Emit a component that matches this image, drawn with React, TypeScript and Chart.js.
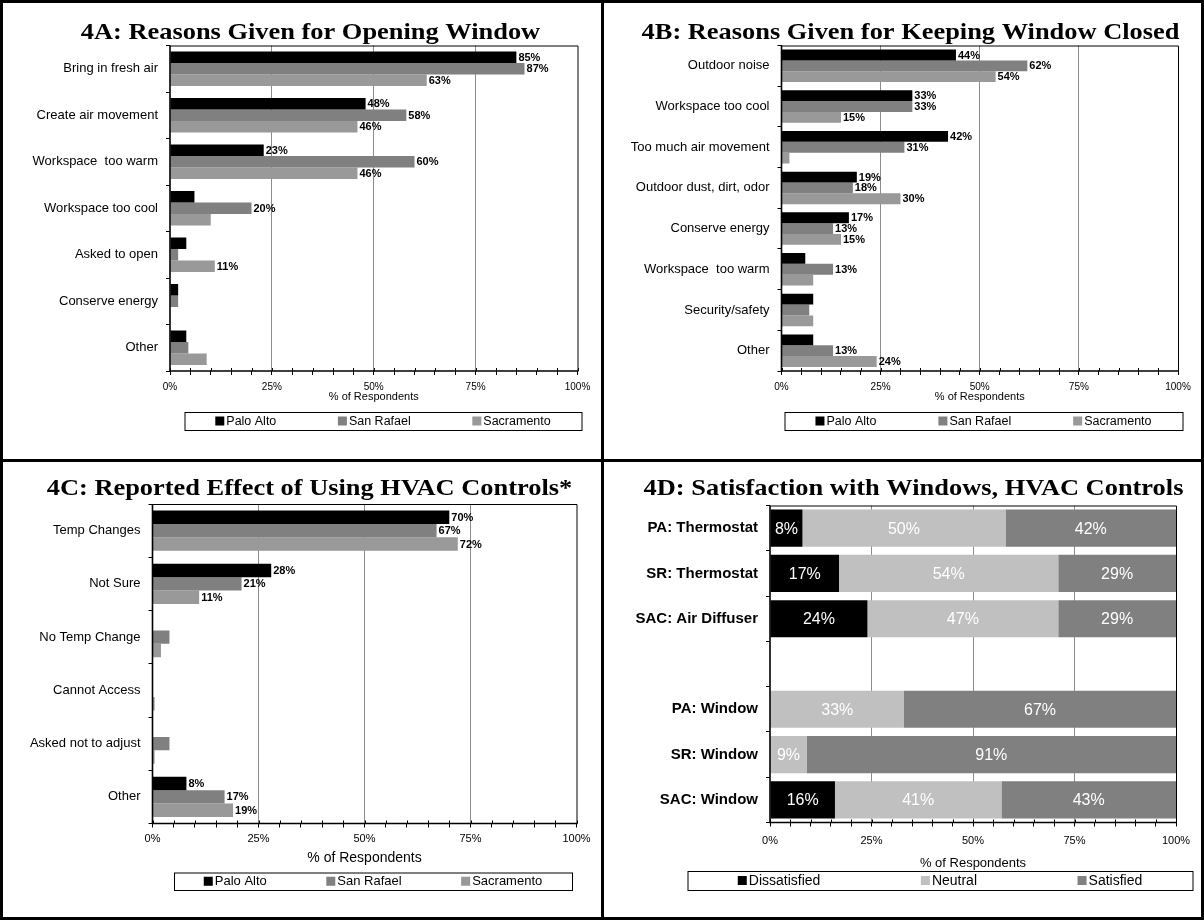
import { useEffect, useRef } from "react";
import { Chart, registerables } from "chart.js";

Chart.register(...registerables);

// ---- 4A: reasons for opening the window (% of respondents) ----
const openReasons = ["Bring in fresh air", "Create air movement", "Workspace  too warm", "Workspace too cool", "Asked to open", "Conserve energy", "Other"];
const openPaloAlto = [85, 48, 23, 6, 4, 2, 4];
const openSanRafael = [87, 58, 60, 20, 2, 2, 4.5];
const openSacramento = [63, 46, 46, 10, 11, 0, 9];

// ---- 4B: reasons for keeping the window closed ----
const closedReasons = ["Outdoor noise", "Workspace too cool", "Too much air movement", "Outdoor dust, dirt, odor", "Conserve energy", "Workspace  too warm", "Security/safety", "Other"];
const closedPaloAlto = [44, 33, 42, 19, 17, 6, 8, 8];
const closedSanRafael = [62, 33, 31, 18, 13, 13, 7, 13];
const closedSacramento = [54, 15, 2, 30, 15, 8, 8, 24];

// ---- 4C: reported effect of using HVAC controls ----
const hvacEffects = ["Temp Changes", "Not Sure", "No Temp Change", "Cannot Access", "Asked not to adjust", "Other"];
const hvacPaloAlto = [70, 28, 0, 0, 0, 8];
const hvacSanRafael = [67, 21, 4, 0, 4, 17];
const hvacSacramento = [72, 11, 2, 0.5, 0.5, 19];

// ---- 4D: satisfaction with windows and HVAC controls (stacked to 100%) ----
const satisfactionItems = ["PA: Thermostat", "SR: Thermostat", "SAC: Air Diffuser", "", "PA: Window", "SR: Window", "SAC: Window"];
const dissatisfied = [8, 17, 24, null, 0, 0, 16];
const neutral = [50, 54, 47, null, 33, 9, 41];
const satisfied = [42, 29, 29, null, 67, 91, 43];

const siteNames = ["Palo Alto", "San Rafael", "Sacramento"];
const ratingNames = ["Dissatisfied", "Neutral", "Satisfied"];
const percentTicks = [0, 25, 50, 75, 100];
const gridTicks = [25, 50, 75];

const SITE_COLORS = ["#000000", "#808080", "#999999"];
const RATING_COLORS = ["#000000", "#c0c0c0", "#808080"];
const SANS = '"Liberation Sans", Arial, sans-serif';
const SERIF = '"Liberation Serif", "Times New Roman", serif';
const TICK_LEN = 4;

type Box = { x: number; y: number; w: number; h: number };
type Frame = {
  box: Box; // canvas, page coordinates
  area: { l: number; t: number; r: number; b: number }; // plot area, page coordinates
  title: string;
  titleX: number;
  titleY: number;
  catFont: { size: number; weight?: string };
  tickFont: number;
  tickCenter: number;
  axisTitleFont: number;
  axisTitleCenter: number;
  legend: Box & { font: number; names: string[]; colors: string[] };
};

const frameA: Frame = {
  box: { x: 0, y: 0, w: 602, h: 460 },
  area: { l: 170, t: 45.5, r: 577.5, b: 371 },
  title: "4A: Reasons Given for Opening Window",
  titleX: 310.5, titleY: 38.5,
  catFont: { size: 13 },
  tickFont: 10, tickCenter: 16,
  axisTitleFont: 11, axisTitleCenter: 26,
  legend: { x: 184.5, y: 412, w: 397, h: 18, font: 12.5, names: siteNames, colors: SITE_COLORS },
};
const frameB: Frame = {
  box: { x: 602, y: 0, w: 602, h: 460 },
  area: { l: 781.5, t: 45.5, r: 1178, b: 371 },
  title: "4B: Reasons Given for Keeping Window Closed",
  titleX: 910.5, titleY: 38.5,
  catFont: { size: 13 },
  tickFont: 10, tickCenter: 16,
  axisTitleFont: 11, axisTitleCenter: 26,
  legend: { x: 784.5, y: 412, w: 398, h: 18, font: 12.5, names: siteNames, colors: SITE_COLORS },
};
const frameC: Frame = {
  box: { x: 0, y: 460, w: 602, h: 460 },
  area: { l: 152.5, t: 504, r: 576.5, b: 823.5 },
  title: "4C: Reported Effect of Using HVAC Controls*",
  titleX: 309.5, titleY: 495,
  catFont: { size: 13 },
  tickFont: 11, tickCenter: 15.5,
  axisTitleFont: 14, axisTitleCenter: 34.5,
  legend: { x: 174, y: 872.5, w: 398, h: 17.5, font: 13, names: siteNames, colors: SITE_COLORS },
};
const frameD: Frame = {
  box: { x: 602, y: 460, w: 602, h: 460 },
  area: { l: 770, t: 505.5, r: 1176, b: 822.5 },
  title: "4D: Satisfaction with Windows, HVAC Controls",
  titleX: 913.5, titleY: 494.5,
  catFont: { size: 15, weight: "bold" },
  tickFont: 11, tickCenter: 18,
  axisTitleFont: 13, axisTitleCenter: 41,
  legend: { x: 687.5, y: 871, w: 505, h: 19, font: 14, names: ratingNames, colors: RATING_COLORS },
};

// Plot frame, panel title and boxed legend.
function decorations(f: Frame) {
  return {
    id: "decorations",
    afterDatasetsDraw(chart: any) {
      const { ctx, chartArea: a } = chart;
      ctx.save();
      ctx.strokeStyle = "#000";
      ctx.lineWidth = 1;
      ctx.beginPath();
      ctx.moveTo(a.left, a.top + 0.5);
      ctx.lineTo(a.right + 0.5, a.top + 0.5);
      ctx.lineTo(a.right + 0.5, a.bottom);
      ctx.stroke();
      ctx.lineWidth = 1.6;
      ctx.beginPath();
      ctx.moveTo(a.left, a.top);
      ctx.lineTo(a.left, a.bottom);
      ctx.lineTo(a.right + 1, a.bottom);
      ctx.stroke();
      // short marks crossing the value axis at every tick
      const xs = chart.scales.x;
      ctx.lineWidth = 1;
      ctx.beginPath();
      xs.ticks.forEach((t: any) => {
        const px = Math.round(xs.getPixelForValue(t.value)) + 0.5;
        ctx.moveTo(px, a.bottom - 3);
        ctx.lineTo(px, a.bottom);
      });
      ctx.stroke();
      ctx.restore();
    },
    afterDraw(chart: any) {
      const ctx: CanvasRenderingContext2D = chart.ctx;
      const ox = f.box.x;
      const oy = f.box.y;
      ctx.save();
      ctx.fillStyle = "#000";
      ctx.font = `bold 24px ${SERIF}`;
      ctx.textAlign = "center";
      ctx.textBaseline = "alphabetic";
      ctx.translate(f.titleX - ox, f.titleY - oy);
      ctx.scale(1.1, 1);
      ctx.fillText(f.title, 0, 0);
      ctx.restore();

      const lg = f.legend;
      const lx = lg.x - ox;
      const ly = lg.y - oy;
      ctx.save();
      ctx.font = `${lg.font}px ${SANS}`;
      const sw = 9;
      const gap = 2;
      const widths = lg.names.map((n) => sw + gap + ctx.measureText(n).width);
      const total = widths.reduce((s, w) => s + w, 0);
      const space = (lg.w - total) / lg.names.length;
      const cy = ly + lg.h / 2;
      let x = lx + space / 2;
      lg.names.forEach((n, i) => {
        ctx.fillStyle = lg.colors[i];
        ctx.fillRect(x, cy - sw / 2, sw, sw);
        ctx.fillStyle = "#000";
        ctx.textAlign = "left";
        ctx.textBaseline = "middle";
        ctx.fillText(n, x + sw + gap, cy + 0.5);
        x += widths[i] + space;
      });
      ctx.strokeStyle = "#000";
      ctx.lineWidth = 1;
      ctx.strokeRect(lx + 0.5, ly + 0.5, lg.w, lg.h);
      ctx.restore();
    },
  };
}

// Bold value labels at the end of each grouped bar.
function endLabels(minShown: number) {
  return {
    id: "endLabels",
    afterDatasetsDraw(chart: any) {
      const ctx = chart.ctx;
      ctx.save();
      ctx.font = `bold 11px ${SANS}`;
      ctx.fillStyle = "#000";
      ctx.textAlign = "left";
      ctx.textBaseline = "middle";
      chart.data.datasets.forEach((ds: any, di: number) => {
        chart.getDatasetMeta(di).data.forEach((bar: any, i: number) => {
          const v = ds.data[i];
          if (v != null && v >= minShown) ctx.fillText(`${v}%`, bar.x + 2, bar.y + 0.5);
        });
      });
      ctx.restore();
    },
  };
}

// White labels centred inside each stacked segment.
const segmentLabels = {
  id: "segmentLabels",
  afterDatasetsDraw(chart: any) {
    const ctx = chart.ctx;
    ctx.save();
    ctx.font = `16px ${SANS}`;
    ctx.fillStyle = "#ffffff";
    ctx.textAlign = "center";
    ctx.textBaseline = "middle";
    chart.data.datasets.forEach((ds: any, di: number) => {
      chart.getDatasetMeta(di).data.forEach((bar: any, i: number) => {
        const v = ds.data[i];
        if (v == null || v <= 0) return;
        const { x, base, y } = bar.getProps(["x", "base", "y"], true);
        ctx.fillText(`${v}%`, (x + base) / 2, y + 1);
      });
    });
    ctx.restore();
  },
};

function baseOptions(f: Frame, stacked: boolean) {
  const padL = 4;
  const yWidth = f.area.l - f.box.x - padL;
  const padT = f.area.t - f.box.y;
  const padR = f.box.x + f.box.w - f.area.r;
  const tickLH = f.tickFont * 1.2;
  const titleLH = f.axisTitleFont * 1.2;
  const xHeight = f.axisTitleCenter + titleLH / 2;
  const padB = f.box.y + f.box.h - f.area.b - xHeight;
  return {
    responsive: false,
    animation: false as const,
    devicePixelRatio: 1,
    indexAxis: "y" as const,
    layout: { padding: { left: padL, top: padT, right: padR, bottom: padB } },
    plugins: {
      legend: { display: false },
      title: { display: false },
      tooltip: { enabled: false },
    },
    scales: {
      x: {
        stacked,
        min: 0,
        max: 100,
        ticks: {
          stepSize: 5,
          autoSkip: false,
          maxRotation: 0,
          padding: f.tickCenter - TICK_LEN - tickLH / 2,
          color: "#000",
          font: { family: SANS, size: f.tickFont },
          callback: (v: any) => (percentTicks.includes(Number(v)) ? `${v}%` : ""),
        },
        grid: {
          color: (c: any) => (c.tick && gridTicks.includes(c.tick.value) ? "#8c8c8c" : "rgba(0,0,0,0)"),
          tickColor: "#000",
          tickLength: TICK_LEN,
          lineWidth: 1,
        },
        border: { display: false },
        title: {
          display: true,
          text: "% of Respondents",
          color: "#000",
          padding: 0,
          font: { family: SANS, size: f.axisTitleFont },
        },
        afterFit: (s: any) => {
          s.height = xHeight;
        },
      },
      y: {
        stacked,
        ticks: {
          autoSkip: false,
          padding: 8,
          color: "#000",
          font: { family: SANS, size: f.catFont.size, weight: f.catFont.weight || "normal" },
        },
        grid: {
          offset: true,
          drawOnChartArea: false,
          drawTicks: true,
          tickLength: TICK_LEN,
          tickColor: "#000",
        },
        border: { display: false },
        afterFit: (s: any) => {
          s.width = yWidth;
        },
      },
    },
  };
}

function siteBars(values: number[][], catPct: number) {
  return values.map((data, i) => ({
    label: siteNames[i],
    data,
    backgroundColor: SITE_COLORS[i],
    borderWidth: 0,
    categoryPercentage: catPct,
    barPercentage: 1,
  }));
}

const chartConfigs: { frame: Frame; config: () => any }[] = [
  {
    frame: frameA,
    config: () => ({
      type: "bar",
      data: { labels: openReasons, datasets: siteBars([openPaloAlto, openSanRafael, openSacramento], 0.74) },
      options: baseOptions(frameA, false),
      plugins: [decorations(frameA), endLabels(11)],
    }),
  },
  {
    frame: frameB,
    config: () => ({
      type: "bar",
      data: { labels: closedReasons, datasets: siteBars([closedPaloAlto, closedSanRafael, closedSacramento], 0.8) },
      options: baseOptions(frameB, false),
      plugins: [decorations(frameB), endLabels(10)],
    }),
  },
  {
    frame: frameC,
    config: () => ({
      type: "bar",
      data: { labels: hvacEffects, datasets: siteBars([hvacPaloAlto, hvacSanRafael, hvacSacramento], 0.76) },
      options: baseOptions(frameC, false),
      plugins: [decorations(frameC), endLabels(5)],
    }),
  },
  {
    frame: frameD,
    config: () => ({
      type: "bar",
      data: {
        labels: satisfactionItems,
        datasets: [dissatisfied, neutral, satisfied].map((data, i) => ({
          label: ratingNames[i],
          data,
          backgroundColor: RATING_COLORS[i],
          borderWidth: 0,
          categoryPercentage: 0.82,
          barPercentage: 1,
        })),
      },
      options: baseOptions(frameD, true),
      plugins: [decorations(frameD), segmentLabels],
    }),
  },
];

function PanelChart({ frame, config }: { frame: Frame; config: () => any }) {
  const ref = useRef<HTMLCanvasElement>(null);
  useEffect(() => {
    if (!ref.current) return;
    const chart = new Chart(ref.current, config());
    return () => chart.destroy();
  }, [config]);
  const { x, y, w, h } = frame.box;
  return (
    <canvas
      ref={ref}
      width={w}
      height={h}
      style={{ position: "absolute", left: x, top: y, width: w, height: h, display: "block" }}
    />
  );
}

export default function App() {
  return (
    <div style={{ position: "fixed", left: 0, top: 0, width: 1204, height: 920, background: "#fff", overflow: "hidden" }}>
      {chartConfigs.map((c, i) => (
        <PanelChart key={i} frame={c.frame} config={c.config} />
      ))}
      <div style={{ position: "absolute", left: 0, top: 0, width: 1204, height: 920, border: "3px solid #000", boxSizing: "border-box", pointerEvents: "none" }} />
      <div style={{ position: "absolute", left: 601, top: 0, width: 3, height: 920, background: "#000" }} />
      <div style={{ position: "absolute", left: 0, top: 459, width: 1204, height: 3, background: "#000" }} />
    </div>
  );
}
